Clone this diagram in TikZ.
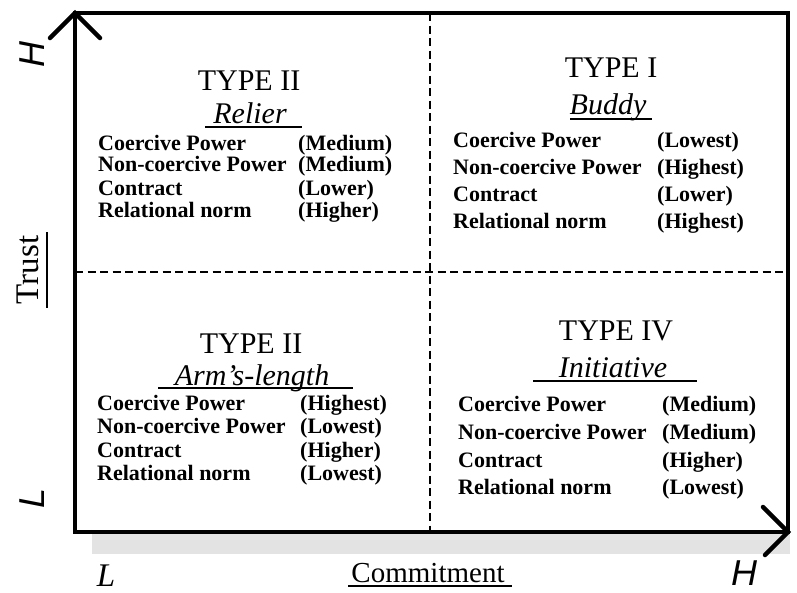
\documentclass[tikz,border=0pt]{standalone}
\usepackage{fontspec}
\setmainfont{Liberation Serif}
\newfontfamily\axisfont{Liberation Sans}
\begin{document}
\begin{tikzpicture}[x=1pt,y=-1pt,
  frame/.style={line width=4.5pt},
  chevron/.style={line width=4.5pt,line cap=round},
  divider/.style={line width=2pt,dash pattern=on 8pt off 4.5pt},
  uline/.style={line width=1.8pt},
  typetitle/.style={anchor=base,inner sep=0pt,font=\fontsize{30}{31}\selectfont},
  typename/.style={anchor=base,inner sep=0pt,font=\fontsize{30}{31}\selectfont\itshape},
  item/.style={anchor=base west,inner sep=0pt,font=\fontsize{22}{23}\selectfont\bfseries},
  axislabel/.style={anchor=base,inner sep=0pt,font=\fontsize{29}{30}\selectfont},
  axisend/.style={anchor=base,inner sep=0pt,font=\fontsize{36}{37}\selectfont\axisfont\itshape}]
\useasboundingbox (0,0) rectangle (797,592);

% shadow strip under the base axis
\fill[black!11] (92,533) rectangle (790,554);

% frame corners
\coordinate (tl) at (75,13);
\coordinate (tr) at (788,13);
\coordinate (br) at (788,532);
\coordinate (bl) at (75,532);
\coordinate (midtop) at (430,13);
\coordinate (midbot) at (430,532);
\coordinate (midleft) at (75,272);
\coordinate (midright) at (788,272);

% quadrant dividers
\draw[divider] (midtop) -- (midbot);
\draw[divider] (midleft) -- (midright);

% axes and frame
\draw[frame,line join=miter] (bl) -- (tl) -- (tr) -- (br) -- cycle;

% open arrow heads on the axes
\coordinate (ua) at (50,38);
\coordinate (ub) at (100,38);
\coordinate (ra) at (763,507);
\coordinate (rb) at (765,555);
\draw[chevron] (ua) -- (tl) -- (ub);
\draw[chevron] (ra) -- (br) -- (rb);

% axis labels
\node[axisend,rotate=90] (hy) at (44,54) {H};
\node[axisend,rotate=90] (ly) at (44,498) {L};
\node[anchor=base,inner sep=0pt,font=\fontsize{33}{34}\selectfont\itshape] (lx) at (106,586) {L};
\node[axisend] (hx) at (744,585) {H};
\node[axislabel,rotate=90,font=\fontsize{33}{34}\selectfont] (trust) at (38,270) {Trust};
\draw[uline] (47,232) -- (47,308);
\node[axislabel] (commit) at (428,582) {Commitment};
\draw[uline] (348,586) -- (512,586);

% upper left quadrant
\node[typetitle] (t2a) at (249,90) {TYPE II};
\node[typename] (relier) at (250,123) {Relier};
\draw[uline] (205,127) -- (302,127);
\node[item] (a1) at (98,150) {Coercive Power};
\node[item] (a2) at (98,171) {Non-coercive Power};
\node[item] (a3) at (98,195) {Contract};
\node[item] (a4) at (98,217) {Relational norm};
\node[item] (av1) at (298,150) {(Medium)};
\node[item] (av2) at (298,171) {(Medium)};
\node[item] (av3) at (298,195) {(Lower)};
\node[item] (av4) at (298,217) {(Higher)};

% upper right quadrant
\node[typetitle] (t1) at (611,77) {TYPE I};
\node[typename] (buddy) at (608,114) {Buddy};
\draw[uline] (570,119) -- (652,119);
\node[item] (b1) at (453,147) {Coercive Power};
\node[item] (b2) at (453,174) {Non-coercive Power};
\node[item] (b3) at (453,201) {Contract};
\node[item] (b4) at (453,228) {Relational norm};
\node[item] (bv1) at (657,147) {(Lowest)};
\node[item] (bv2) at (657,174) {(Highest)};
\node[item] (bv3) at (657,201) {(Lower)};
\node[item] (bv4) at (657,228) {(Highest)};

% lower left quadrant
\node[typetitle] (t2b) at (251,353) {TYPE II};
\node[typename] (arm) at (252,385) {Arm's-length};
\draw[uline] (158,388) -- (353,388);
\node[item] (c1) at (97,410) {Coercive Power};
\node[item] (c2) at (97,433) {Non-coercive Power};
\node[item] (c3) at (97,457) {Contract};
\node[item] (c4) at (97,480) {Relational norm};
\node[item] (cv1) at (300,410) {(Highest)};
\node[item] (cv2) at (300,433) {(Lowest)};
\node[item] (cv3) at (300,457) {(Higher)};
\node[item] (cv4) at (300,480) {(Lowest)};

% lower right quadrant
\node[typetitle] (t4) at (616,340) {TYPE IV};
\node[typename] (init) at (613,377) {Initiative};
\draw[uline] (533,381) -- (697,381);
\node[item] (d1) at (458,411) {Coercive Power};
\node[item] (d2) at (458,439) {Non-coercive Power};
\node[item] (d3) at (458,467) {Contract};
\node[item] (d4) at (458,494) {Relational norm};
\node[item] (dv1) at (662,411) {(Medium)};
\node[item] (dv2) at (662,439) {(Medium)};
\node[item] (dv3) at (662,467) {(Higher)};
\node[item] (dv4) at (662,494) {(Lowest)};
\end{tikzpicture}
\end{document}
